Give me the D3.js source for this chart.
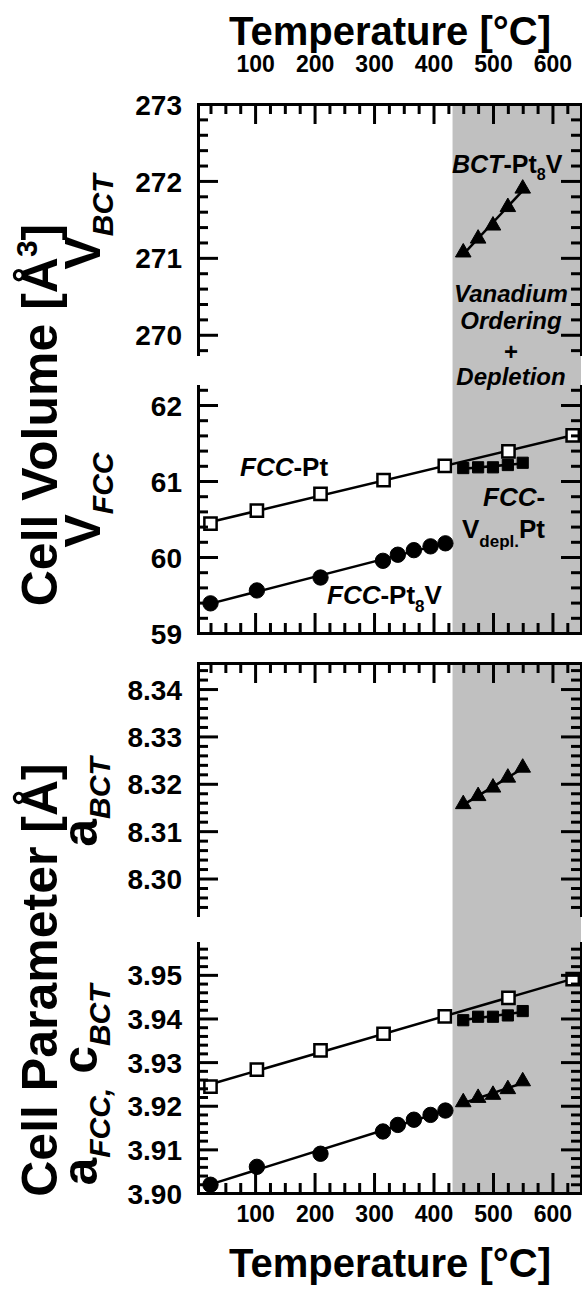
<!DOCTYPE html>
<html lang="en">
<head>
<meta charset="UTF-8">
<title>Cell volume and cell parameter vs temperature</title>
<script src="https://cdn.jsdelivr.net/npm/d3@7"></script>
<style>
  body { margin: 0; background: #fff; }
  svg text { font-family: "Liberation Sans", Arial, sans-serif; font-weight: bold; fill: #000; }
  .it { font-style: italic; }
</style>
</head>
<body>
<div id="chart"></div>
<script>
// measured temperatures [°C]
var tPt   = [25, 103, 210, 316, 419, 526, 634];
var tPt8V = [25, 103, 210, 315, 340, 367, 395, 420];
var tHigh = [450, 475, 500, 525, 550];

// cell volumes [Å^3]
var vPt   = [60.44, 60.61, 60.83, 61.01, 61.20, 61.39, 61.60];
var vPt8V = [59.39, 59.56, 59.73, 59.95, 60.03, 60.09, 60.14, 60.18];
var vDepl = [61.17, 61.18, 61.18, 61.21, 61.24];
var vBCT  = [271.07, 271.25, 271.42, 271.66, 271.90];

// cell parameters [Å]
var aPt   = [3.9244, 3.9283, 3.9327, 3.9365, 3.9405, 3.9447, 3.9490];
var aPt8V = [3.9019, 3.9060, 3.9090, 3.9141, 3.9156, 3.9168, 3.9179, 3.9189];
var aDepl = [3.9396, 3.9404, 3.9404, 3.9407, 3.9417];
var cBCT  = [3.9208, 3.9218, 3.9225, 3.9238, 3.9256];
var aBCT  = [8.3157, 8.3174, 8.3192, 8.3213, 8.3234];

// axis ticks
var xTicks    = [100, 200, 300, 400, 500, 600];
var vBCTTicks = [270, 271, 272, 273];
var vFCCTicks = [59, 60, 61, 62];
var aBCTTicks = [8.30, 8.31, 8.32, 8.33, 8.34];
var aFCCTicks = [3.90, 3.91, 3.92, 3.93, 3.94, 3.95];
var shadeStart = 432;   // start of the ordering/depletion region [°C]

var W = 582, H = 1296;
var xL = 198, xR = 581;

var svg = d3.select("#chart").append("svg")
    .attr("width", W).attr("height", H);

var x = d3.scaleLinear().domain([4, 648]).range([xL, xR]);

// four stacked panels (two broken-axis pairs)
var panels = [
  {dom: [269.75, 273],    rng: [354, 104],  major: vBCTTicks, minor: 0.2,   fmt: d3.format("d"),   top: true,  bottom: false},
  {dom: [59, 62.25],      rng: [633, 386],  major: vFCCTicks, minor: 0.2,   fmt: d3.format("d"),   top: false, bottom: true},
  {dom: [8.2923, 8.3455], rng: [915, 663],  major: aBCTTicks, minor: 0.002, fmt: d3.format(".2f"), top: true,  bottom: false},
  {dom: [3.90, 3.9573],   rng: [1193, 943], major: aFCCTicks, minor: 0.002, fmt: d3.format(".2f"), top: false, bottom: true}
];
panels.forEach(function(p) { p.y = d3.scaleLinear().domain(p.dom).range(p.rng); });

// grey region
[[0, 1], [2, 3]].forEach(function(pair) {
  var top = panels[pair[0]].rng[1], bot = panels[pair[1]].rng[0];
  svg.append("rect")
    .attr("x", x(shadeStart)).attr("y", top)
    .attr("width", xR - x(shadeStart)).attr("height", bot - top)
    .attr("fill", "#c0c0c0");
});

// least squares line over the series' own temperature range
function fitLine(g, p, ts, vs) {
  var mx = d3.mean(ts), my = d3.mean(vs);
  var sxy = d3.sum(ts, function(t, i) { return (t - mx) * (vs[i] - my); });
  var sxx = d3.sum(ts, function(t) { return (t - mx) * (t - mx); });
  var b = sxy / sxx, a = my - b * mx;
  var ends = d3.extent(ts);
  g.append("path")
    .attr("d", d3.line()(ends.map(function(t) { return [x(t), p.y(a + b * t)]; })))
    .attr("fill", "none").attr("stroke", "#000").attr("stroke-width", 2.5);
}

function markers(g, p, ts, vs, kind) {
  var sym = {
    open:   d3.symbol().type(d3.symbolSquare).size(150),
    square: d3.symbol().type(d3.symbolSquare).size(125),
    circle: d3.symbol().type(d3.symbolCircle).size(185),
    tri:    d3.symbol().type(d3.symbolTriangle).size(105)
  }[kind];
  g.selectAll(null).data(ts).enter().append("path")
    .attr("transform", function(t, i) { return "translate(" + x(t) + "," + p.y(vs[i]) + ")"; })
    .attr("d", sym)
    .attr("fill", kind == "open" ? "#fff" : "#000")
    .attr("stroke", "#000")
    .attr("stroke-width", kind == "open" ? 2.5 : 1);
}

var plot = svg.append("g");

// V_BCT
fitLine(plot, panels[0], tHigh, vBCT);
markers(plot, panels[0], tHigh, vBCT, "tri");
// V_FCC
fitLine(plot, panels[1], tPt, vPt);
fitLine(plot, panels[1], tPt8V, vPt8V);
fitLine(plot, panels[1], tHigh, vDepl);
markers(plot, panels[1], tPt, vPt, "open");
markers(plot, panels[1], tPt8V, vPt8V, "circle");
markers(plot, panels[1], tHigh, vDepl, "square");
// a_BCT
fitLine(plot, panels[2], tHigh, aBCT);
markers(plot, panels[2], tHigh, aBCT, "tri");
// a_FCC, c_BCT
fitLine(plot, panels[3], tPt, aPt);
fitLine(plot, panels[3], tPt8V, aPt8V);
fitLine(plot, panels[3], tHigh, aDepl);
fitLine(plot, panels[3], tHigh, cBCT);
markers(plot, panels[3], tPt, aPt, "open");
markers(plot, panels[3], tPt8V, aPt8V, "circle");
markers(plot, panels[3], tHigh, aDepl, "square");
markers(plot, panels[3], tHigh, cBCT, "tri");

// axes
var xMinor = d3.range(25, 650, 25).filter(function(t) { return t % 100 != 0; });

function styleAxis(g) {
  g.selectAll("path.domain").attr("stroke-width", 3).attr("stroke-linecap", "square");
  g.selectAll(".tick line").attr("stroke-width", 3);
  g.selectAll("text").attr("fill", "#000");
}

panels.forEach(function(p, i) {
  var lo = p.dom[0], hi = p.dom[1];
  var minor = d3.range(Math.ceil(lo / p.minor) * p.minor, hi, p.minor)
    .filter(function(v) { return !p.major.some(function(m) { return Math.abs(m - v) < p.minor / 10; }); });

  svg.append("g").attr("transform", "translate(" + xL + ",0)")
    .call(d3.axisLeft(p.y).tickValues(p.major).tickSize(-20).tickSizeOuter(0).tickPadding(16).tickFormat(p.fmt))
    .call(styleAxis)
    .selectAll("text").style("font-size", "28px").attr("dy", "0.36em");
  svg.append("g").attr("transform", "translate(" + xL + ",0)")
    .call(d3.axisLeft(p.y).tickValues(minor).tickSize(-10).tickSizeOuter(0).tickFormat(""))
    .call(styleAxis);

  svg.append("g").attr("transform", "translate(" + xR + ",0)")
    .call(d3.axisRight(p.y).tickValues(p.major).tickSize(-20).tickSizeOuter(0).tickFormat(""))
    .call(styleAxis);
  svg.append("g").attr("transform", "translate(" + xR + ",0)")
    .call(d3.axisRight(p.y).tickValues(minor).tickSize(-10).tickSizeOuter(0).tickFormat(""))
    .call(styleAxis);

  if (p.top) {
    var yt = p.rng[1];
    svg.append("g").attr("transform", "translate(0," + yt + ")")
      .call(d3.axisTop(x).tickValues(xTicks).tickSize(-20).tickSizeOuter(0).tickPadding(32)
        .tickFormat(i == 0 ? d3.format("d") : ""))
      .call(styleAxis)
      .selectAll("text").style("font-size", "23px");
    svg.append("g").attr("transform", "translate(0," + yt + ")")
      .call(d3.axisTop(x).tickValues(xMinor).tickSize(-10).tickSizeOuter(0).tickFormat(""))
      .call(styleAxis);
  }
  if (p.bottom) {
    var yb = p.rng[0];
    svg.append("g").attr("transform", "translate(0," + yb + ")")
      .call(d3.axisBottom(x).tickValues(xTicks).tickSize(-20).tickSizeOuter(0).tickPadding(13)
        .tickFormat(i == 3 ? d3.format("d") : ""))
      .call(styleAxis)
      .selectAll("text").style("font-size", "23px");
    svg.append("g").attr("transform", "translate(0," + yb + ")")
      .call(d3.axisBottom(x).tickValues(xMinor).tickSize(-10).tickSizeOuter(0).tickFormat(""))
      .call(styleAxis);
  }
});

// axis titles
svg.append("text").attr("x", 390).attr("y", 45).attr("text-anchor", "middle")
  .style("font-size", "40px").text("Temperature [°C]");
svg.append("text").attr("x", 390).attr("y", 1277).attr("text-anchor", "middle")
  .style("font-size", "40px").text("Temperature [°C]");

function yTitle(cx, cy, size, parts) {
  var t = svg.append("text").attr("text-anchor", "middle")
    .attr("transform", "translate(" + cx + "," + cy + ") rotate(-90)")
    .style("font-size", size + "px");
  parts.forEach(function(q) {
    var s = t.append("tspan").text(q.s);
    if (q.it) s.attr("class", "it");
    if (q.size) s.style("font-size", q.size + "px");
    if (q.dy) s.attr("dy", q.dy);
  });
}
yTitle(57, 415, 50, [{s: "Cell Volume [Å"}, {s: "3", size: 30, dy: -20}, {s: "]", dy: 20}]);
yTitle(100, 222, 50, [{s: "V"}, {s: "BCT", it: true, size: 30, dy: 13}]);
yTitle(100, 500, 50, [{s: "V"}, {s: "FCC", it: true, size: 30, dy: 13}]);
yTitle(57, 980, 50, [{s: "Cell Parameter [Å]"}]);
yTitle(97, 802, 50, [{s: "a"}, {s: "BCT", it: true, size: 30, dy: 13}]);
yTitle(97, 1085, 50, [{s: "a"}, {s: "FCC,", it: true, size: 30, dy: 13}, {s: " c", dy: -13}, {s: "BCT", it: true, size: 30, dy: 13}]);

// annotations
function label(xp, yp, size, parts, anchor) {
  var t = svg.append("text").attr("x", xp).attr("y", yp)
    .attr("text-anchor", anchor || "start").style("font-size", size + "px");
  parts.forEach(function(q) {
    var s = t.append("tspan").text(q.s);
    if (q.it) s.attr("class", "it");
    if (q.size) s.style("font-size", q.size + "px");
    if (q.dy) s.attr("dy", q.dy);
  });
}
label(452, 173, 25, [{s: "BCT", it: true}, {s: "-Pt"}, {s: "8", size: 16, dy: 7}, {s: "V", dy: -7}]);
label(511, 302, 24, [{s: "Vanadium", it: true}], "middle");
label(511, 329, 24, [{s: "Ordering", it: true}], "middle");
label(511, 360, 24, [{s: "+"}], "middle");
label(511, 385, 24, [{s: "Depletion", it: true}], "middle");
label(240, 476, 26, [{s: "FCC", it: true}, {s: "-Pt"}]);
label(327, 604, 26, [{s: "FCC", it: true}, {s: "-Pt"}, {s: "8", size: 17, dy: 8}, {s: "V", dy: -8}]);
label(483, 506, 26, [{s: "FCC", it: true}, {s: "-"}]);
label(462, 538, 26, [{s: "V"}, {s: "depl.", size: 17, dy: 9}, {s: "Pt", dy: -9}]);
</script>
</body>
</html>
